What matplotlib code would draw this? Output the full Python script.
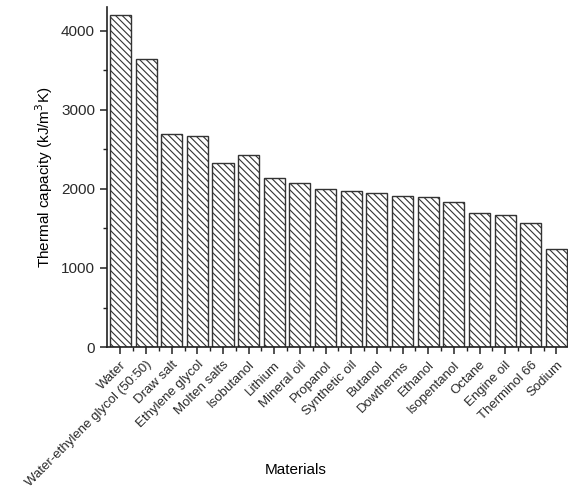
import numpy as np
import matplotlib.pyplot as plt

plt.rcParams['font.family'] = ['Liberation Sans', 'DejaVu Sans']
plt.rcParams['hatch.linewidth'] = 0.8
plt.rcParams['hatch.color'] = '#555555'
plt.rcParams['text.color'] = '#2a2a2a'

# Thermal capacity of heat-transfer materials, kJ/(m^3 K)
materials = ["Water", "Water-ethylene glycol (50:50)", "Draw salt", "Ethylene glycol",
             "Molten salts", "Isobutanol", "Lithium", "Mineral oil", "Propanol",
             "Synthetic oil", "Butanol", "Dowtherms", "Ethanol", "Isopentanol",
             "Octane", "Engine oil", "Therminol 66", "Sodium"]
capacity = [4195, 3646, 2692, 2667, 2328, 2430, 2138, 2079, 2003,
            1977, 1944, 1906, 1897, 1830, 1691, 1666, 1572, 1242]

fig = plt.figure(figsize=(5.68, 5.03), dpi=100)
ax = fig.add_axes([0.188, 0.310, 0.812, 0.676])

x = np.arange(len(materials))
ax.bar(x, capacity, width=0.82, color='white', edgecolor='#333333',
       linewidth=1.0, hatch='\\\\\\\\\\')

ax.set_xlim(-0.53, 17.45)
ax.set_ylim(0, 4300)
ax.set_yticks([0, 1000, 2000, 3000, 4000])
ax.set_yticks(np.arange(500, 4300, 1000), minor=True)
ax.set_xticks(x)
ax.set_xticks(x[:-1] + 0.5, minor=True)
ax.set_xticklabels(materials, rotation=45, ha='right', rotation_mode='anchor', fontsize=9.5)

for s in ['top', 'right']:
    ax.spines[s].set_visible(False)
for s in ['left', 'bottom']:
    ax.spines[s].set_linewidth(1.2)
    ax.spines[s].set_color('#222222')

ax.tick_params(axis='both', which='major', length=5, width=1.1, direction='out',
               colors='#222222', labelcolor='#2a2a2a')
ax.tick_params(axis='both', which='minor', length=3, width=1.0, direction='out', colors='#222222')
ax.tick_params(axis='y', labelsize=11)

ax.set_ylabel("Thermal capacity (kJ/m$^3$K)", fontsize=11)
ax.set_xlabel("Materials", fontsize=11)
ax.xaxis.set_label_coords(0.41, -0.34)

fig.savefig("out.png", dpi=100)
